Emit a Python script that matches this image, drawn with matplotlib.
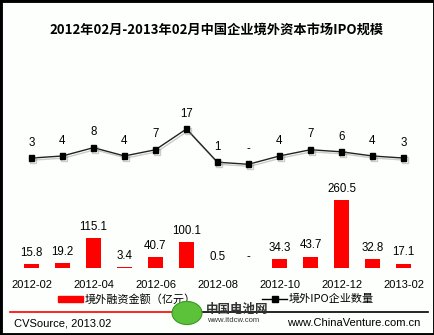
import matplotlib
matplotlib.use("Agg")
import matplotlib.pyplot as plt
import matplotlib.patheffects as pe
from matplotlib.patches import Rectangle, Circle
from matplotlib.lines import Line2D

plt.rcParams['font.family'] = ['Liberation Sans', 'Noto Sans CJK SC', 'DejaVu Sans']

# 月份、融资金额（亿元）、IPO 企业数量
months = ["2012-02", "2012-03", "2012-04", "2012-05", "2012-06", "2012-07", "2012-08",
          "2012-09", "2012-10", "2012-11", "2012-12", "2013-01", "2013-02"]
amount = [15.8, 19.2, 115.1, 3.4, 40.7, 100.1, 0.5, 0, 34.3, 43.7, 260.5, 32.8, 17.1]
count = [3, 4, 8, 4, 7, 17, 1, 0, 4, 7, 6, 4, 3]
amount_labels = ["15.8", "19.2", "115.1", "3.4", "40.7", "100.1", "0.5", "-",
                 "34.3", "43.7", "260.5", "32.8", "17.1"]
count_labels = ["3", "4", "8", "4", "7", "17", "1", "-", "4", "7", "6", "4", "3"]
tick_months = ["2012-02", "2012-04", "2012-06", "2012-08", "2012-10", "2012-12", "2013-02"]

W, H = 435, 335
fig = plt.figure(figsize=(W / 100, H / 100), dpi=100, facecolor="#fcfffc")

# 外框
fig.patches.append(Rectangle((0, 0), 1, 1, transform=fig.transFigure, fill=False,
                             edgecolor="black", linewidth=3.5, zorder=10))

fig.text(217 / W, 1 - 30 / H, "2012年02月-2013年02月中国企业境外资本市场IPO规模",
         ha="center", va="center", fontsize=9.5, fontweight="bold",
         family=['Noto Sans CJK SC', 'Liberation Sans'])

# 主坐标区：柱状图（融资金额）
ax = fig.add_axes([16 / W, 67 / H, 403 / W, 158 / H])
ax.set_facecolor("none")
x = list(range(len(months)))
ax.bar(x, amount, width=0.48, color="#ff0000", zorder=2)
ax.set_xlim(-0.5, len(months) - 0.5)
ax.set_ylim(0, 158 / 0.262)
for i, (v, lab) in enumerate(zip(amount, amount_labels)):
    ax.annotate(lab, (i, v), xytext=(0, 8), textcoords="offset points",
                ha="center", va="center", fontsize=8.3)
ax.axis("off")

# 次坐标区：折线（企业数量）
ax2 = ax.twinx()
ax2.set_ylim(-103.7 / 2.08, (158 - 103.7) / 2.08)
ax2.plot(x, count, color="#222222", linewidth=1.0, marker="s", markersize=4.2,
         markerfacecolor="black", markeredgecolor="black", zorder=3,
         path_effects=[pe.SimpleLineShadow(offset=(1, -1.5), shadow_color="gray", alpha=0.4),
                       pe.Normal()])
for i, (v, lab) in enumerate(zip(count, count_labels)):
    ax2.annotate(lab, (i, v), xytext=(0, 11), textcoords="offset points",
                 ha="center", va="center", fontsize=8.3)
ax2.axis("off")

# x 轴标签（隔月显示）
for m in tick_months:
    i = months.index(m)
    xf = (16 + (i + 0.5) * 31) / W
    fig.text(xf, 1 - 285 / H, m, ha="center", va="center", fontsize=8)

# 图例
fig.patches.append(Rectangle((58 / W, 1 - 301.5 / H), 25 / W, 5.5 / H,
                             transform=fig.transFigure, color="#ff0000"))
fig.text(85 / W, 1 - 299 / H, "境外融资金额（亿元）", ha="left", va="center", fontsize=8,
         family=['Noto Sans CJK SC', 'Liberation Sans'])
fig.lines.append(Line2D([262 / W, 287 / W], [1 - 299 / H] * 2, transform=fig.transFigure,
                        color="black", linewidth=1))
fig.lines.append(Line2D([274.5 / W], [1 - 299 / H], transform=fig.transFigure,
                        marker="s", markersize=4, color="black"))
fig.text(289 / W, 1 - 299 / H, "境外IPO企业数量", ha="left", va="center", fontsize=8,
         family=['Noto Sans CJK SC', 'Liberation Sans'])

# 分隔线
fig.lines.append(Line2D([10 / W, 200 / W], [1 - 311.5 / H] * 2, transform=fig.transFigure,
                        color="#ff0000", linewidth=1.2))
fig.lines.append(Line2D([200 / W, 428 / W], [1 - 311.5 / H] * 2, transform=fig.transFigure,
                        color="black", linewidth=1.2))

# 来源
fig.text(14 / W, 1 - 323 / H, "CVSource, 2013.02", ha="left", va="center", fontsize=8)
fig.text(420 / W, 1 - 323 / H, "www.ChinaVenture.com.cn", ha="right", va="center", fontsize=8)

# 水印
fig.patches.append(Circle((187 / W, 1 - 313 / H), 15 / W, transform=fig.transFigure,
                          facecolor="#5cc23a", edgecolor="#3a9a22", linewidth=0.8, zorder=5))
fig.text(206 / W, 1 - 309 / H, "中国电池网", ha="left", va="center", fontsize=9,
         fontweight="bold", color="#333333", zorder=6,
         family=['Noto Sans CJK SC', 'Liberation Sans'])
fig.text(207 / W, 1 - 320.5 / H, "www.itdcw.com", ha="left", va="center", fontsize=5.5,
         color="#333333", zorder=6)

fig.savefig("out.png", dpi=100, facecolor=fig.get_facecolor())
